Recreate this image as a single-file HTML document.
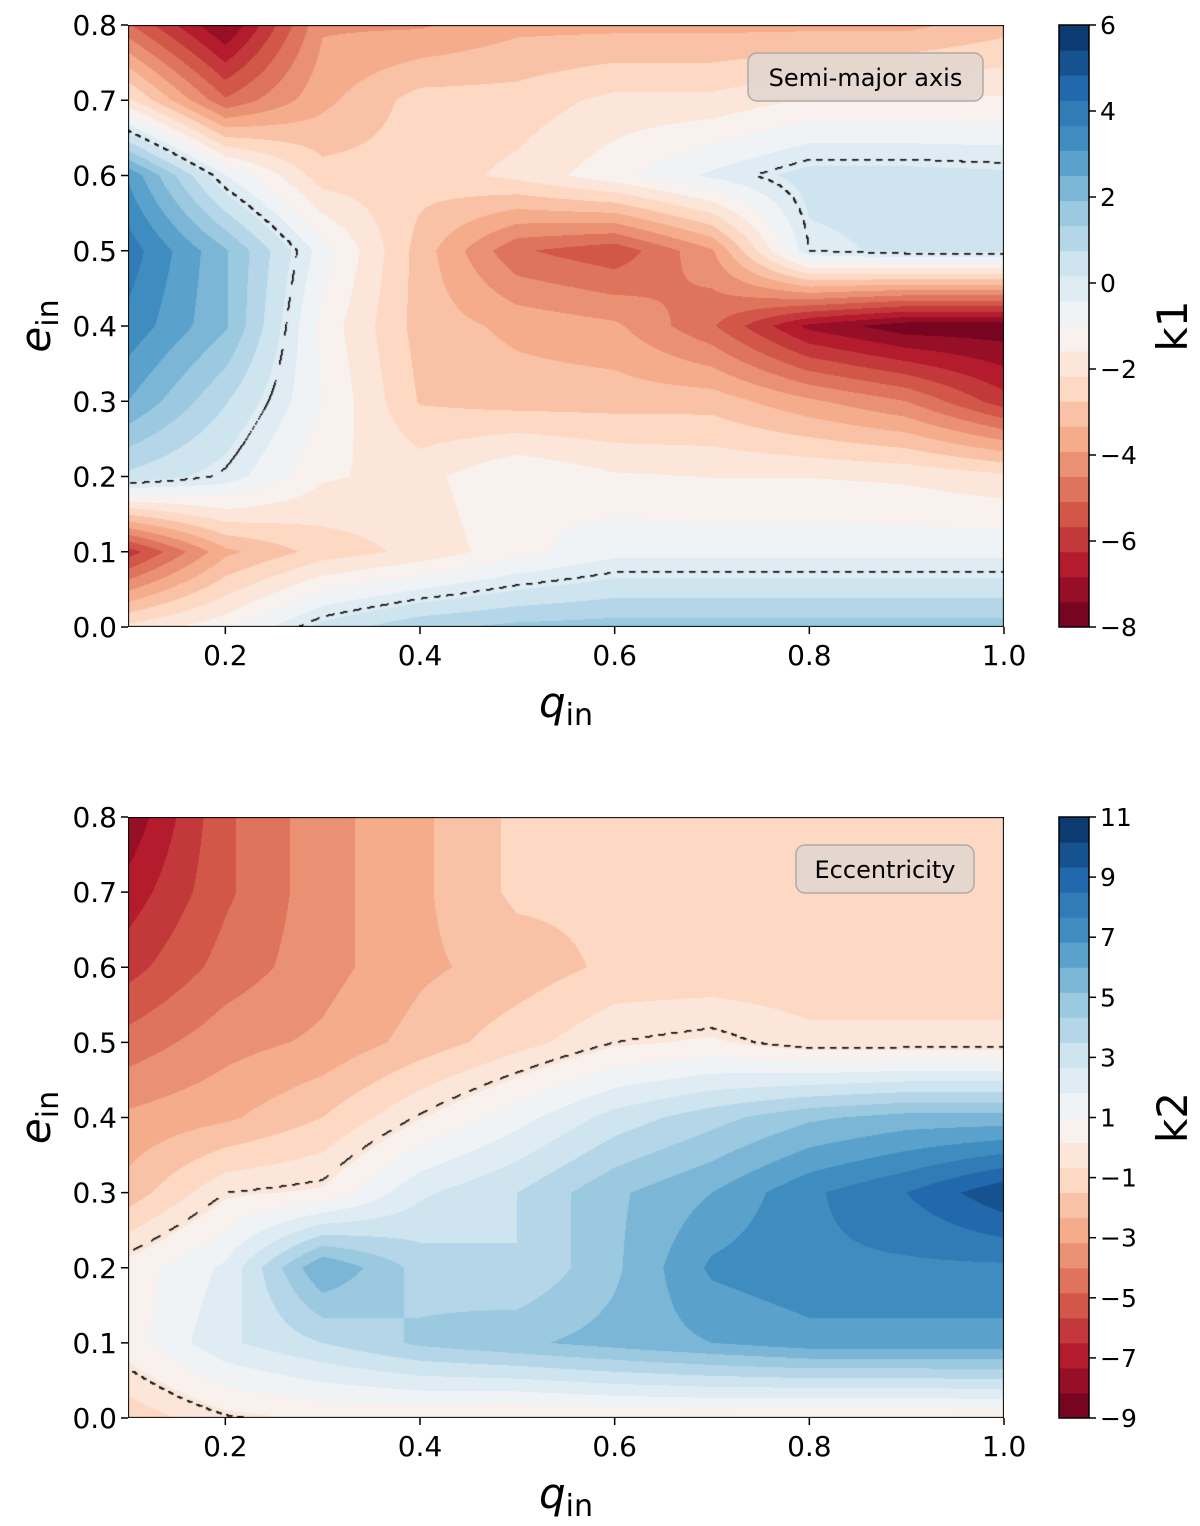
<!DOCTYPE html>
<html><head><meta charset="utf-8">
<style>
body{margin:0;background:#fff;width:1200px;height:1526px;position:relative;overflow:hidden;font-family:"DejaVu Sans","Liberation Sans",sans-serif}
canvas{position:absolute}
svg{position:absolute;left:0;top:0}
</style></head>
<body>
<canvas id="c1" width="876" height="602" style="left:128px;top:25px"></canvas>
<canvas id="c2" width="876" height="601" style="left:128px;top:817px"></canvas>
<svg id="ov" width="1200" height="1526"></svg>
<script>
const qVals=[0.1,0.2,0.3,0.4,0.5,0.6,0.7,0.8,0.9,1.0];
const eVals=[0,0.1,0.2,0.3,0.4,0.5,0.6,0.7,0.8];
// k1 rows for e = 0..0.8
const k1=[
[-2,-1.2,0.4,1.2,1.5,1.6,1.6,1.6,1.6,1.6],
[-6,-3.5,-2.5,-2,-1.2,-0.6,-0.6,-0.6,-0.6,-0.6],
[0.6,-0.1,-1.5,-1.8,-1,-1.5,-1.6,-1.6,-1.7,-2],
[2.5,0.8,-1,-2.8,-3,-3,-3,-3.8,-4.5,-6],
[3.5,2,-1.2,-3,-3.5,-3.8,-5,-7,-7.8,-7.8],
[4,2,-0.7,-3,-5,-5.5,-4,0,0.3,0.3],
[3,-0.4,-2.5,-2.5,-2,-1.2,-0.3,0.4,0.4,0.3],
[-2,-5,-3.5,-2.5,-2.5,-2,-2,-1.5,-1.5,-1.5],
[-5,-7.5,-4,-4,-3.5,-3.5,-3.5,-3.5,-3.5,-3]];
// k2 rows for e = 0..0.8
const k2=[
[-1.2,-0.1,0.3,0.3,0.1,0.3,0.3,0.1,0.1,0.3],
[0.6,2.5,3.5,4.5,5,5.5,6,6.5,6.5,6.5],
[0.5,2,6,4,3.5,5,7,7.5,7.5,7.5],
[-2,0,0.3,2.5,3.5,5,6,7.5,8.5,10],
[-3,-2.5,-1.5,0.1,1.5,3,4,5,5.5,5.5],
[-4.5,-3.5,-3,-2,-1,0,0.3,-0.4,-0.4,-0.4],
[-6,-4.5,-3.5,-2.5,-2,-1.3,-1.3,-1.3,-1.3,-1.3],
[-7,-5,-3.5,-2.5,-1.3,-1.3,-1.3,-1.3,-1.3,-1.3],
[-8,-5,-3.5,-2.5,-1.3,-1.3,-1.3,-1.3,-1.3,-1.3]];
const k1Range=[-8,6], k2Range=[-9,11];
const k1Ticks=[-8,-6,-4,-2,0,2,4,6];
const k2Ticks=[-9,-7,-5,-3,-1,1,3,5,7,9,11];
const qTicks=[0.2,0.4,0.6,0.8,1.0];
const eTicks=[0,0.1,0.2,0.3,0.4,0.5,0.6,0.7,0.8];
const NB=24;

const rdbu=["#67001f","#b2182b","#d6604d","#f4a582","#fddbc7","#f7f7f7","#d1e5f0","#92c5de","#4393c3","#2166ac","#053061"].map(h=>[1,3,5].map(i=>parseInt(h.substr(i,2),16)));
function cmap(t){t=Math.max(0,Math.min(1,t))*10;const i=Math.min(9,Math.floor(t)),f=t-i;return rdbu[i].map((v,k)=>Math.round(v+(rdbu[i+1][k]-v)*f));}
function interp(g,q,e){
  let fx=(q-0.1)/0.1, fy=e/0.1;
  let i=Math.min(8,Math.max(0,Math.floor(fx))), j=Math.min(7,Math.max(0,Math.floor(fy)));
  let u=fx-i,v=fy-j;
  return g[j][i]*(1-u)*(1-v)+g[j][i+1]*u*(1-v)+g[j+1][i]*(1-u)*v+g[j+1][i+1]*u*v;
}
function drawMap(id,g,rng){
  const cv=document.getElementById(id),ctx=cv.getContext('2d'),W=cv.width,H=cv.height;
  const img=ctx.createImageData(W,H);
  const vals=new Float32Array(W*H);
  for(let y=0;y<H;y++)for(let x=0;x<W;x++){
    const q=0.1+0.9*(x+0.5)/W,e=0.8*(1-(y+0.5)/H);
    const val=interp(g,q,e);vals[y*W+x]=val;
    let b=Math.floor((val-rng[0])/(rng[1]-rng[0])*NB);b=Math.max(0,Math.min(NB-1,b));
    const c=cmap((b+0.5)/NB),o=(y*W+x)*4;
    img.data[o]=c[0];img.data[o+1]=c[1];img.data[o+2]=c[2];img.data[o+3]=255;
  }
  ctx.putImageData(img,0,0);
  ctx.fillStyle="#111";
  for(let y=0;y<H-1;y++)for(let x=0;x<W-1;x++){
    const a=vals[y*W+x],b=vals[y*W+x+1],c=vals[(y+1)*W+x];
    if((a<0)!==(b<0)||(a<0)!==(c<0)){
      if(Math.floor((x+y*0.6)/6)%2===0) ctx.fillRect(x,y,1.6,1.6);
    }
  }
  ctx.strokeStyle="#000";ctx.lineWidth=2;ctx.strokeRect(0,0,W,H);
}
drawMap('c1',k1,k1Range);
drawMap('c2',k2,k2Range);

const NS="http://www.w3.org/2000/svg",ov=document.getElementById('ov');
function el(t,a,txt){const e=document.createElementNS(NS,t);for(const k in a)e.setAttribute(k,a[k]);if(txt!==undefined)e.textContent=txt;ov.appendChild(e);return e;}
function fmt(v){return (v<0?"\u2212":"")+Math.abs(v);}
function panel(top,bottom,cbTicks,rng,cbLabel,legend,lx,lw,pfx){
  const L=128,R=1004;
  for(const q of qTicks){const x=L+(q-0.1)/0.9*(R-L);
    const tk=el('line',{x1:x,x2:x,y1:bottom,y2:bottom+7,stroke:'#000','stroke-width':1.5});
    
    const t=el('text',{x:x,y:bottom+38,'font-size':28,'text-anchor':'middle'},q.toFixed(1));
    }
  for(const e of eTicks){const y=bottom-e/0.8*(bottom-top);
    const tk=el('line',{x1:L-7,x2:L,y1:y,y2:y,stroke:'#000','stroke-width':1.5});
    
    const t=el('text',{x:L-11,y:y+10,'font-size':28,'text-anchor':'end'},e.toFixed(1));
    }
  const xl=el('text',{x:566,y:bottom+90,'font-size':42,'text-anchor':'middle'});
  
  xl.innerHTML='<tspan font-style="italic">q</tspan><tspan font-size="30" dy="8">in</tspan>';
  const yl=el('text',{transform:`translate(50,${(top+bottom)/2}) rotate(-90)`,'font-size':42,'text-anchor':'middle'});
  
  yl.innerHTML='<tspan font-style="italic">e</tspan><tspan font-size="30" dy="8">in</tspan>';
  const cx=1059,cw=30,h=bottom-top;
  for(let b=0;b<NB;b++){const c=cmap((b+0.5)/NB);
    const r=el('rect',{x:cx,y:bottom-(b+1)*h/NB,width:cw,height:h/NB+0.5,fill:`rgb(${c})`});
    }
  el('rect',{x:cx,y:top,width:cw,height:h,fill:'none',stroke:'#000','stroke-width':1.5});
  for(const v of cbTicks){const y=bottom-(v-rng[0])/(rng[1]-rng[0])*h;
    el('line',{x1:cx+cw,x2:cx+cw+7,y1:y,y2:y,stroke:'#000','stroke-width':1.5});
    const t=el('text',{x:cx+cw+11,y:y+9,'font-size':25},fmt(v));
    }
  const cl=el('text',{transform:`translate(1187,${(top+bottom)/2}) rotate(-90)`,'font-size':42,'text-anchor':'middle'},cbLabel);
  
  const lg=el('rect',{x:lx,y:top+28,width:lw,height:48,rx:9,fill:'#e2d6cf','fill-opacity':0.9,stroke:'#b0aaa6','stroke-width':1.5});
  
  const lt=el('text',{x:lx+lw/2,y:top+61,'font-size':24,'text-anchor':'middle'},legend);
  
}
panel(25,627,k1Ticks,k1Range,'k1','Semi-major axis',748,235,'k1');
panel(817,1418,k2Ticks,k2Range,'k2','Eccentricity',796,178,'k2');
</script>
</body></html>
